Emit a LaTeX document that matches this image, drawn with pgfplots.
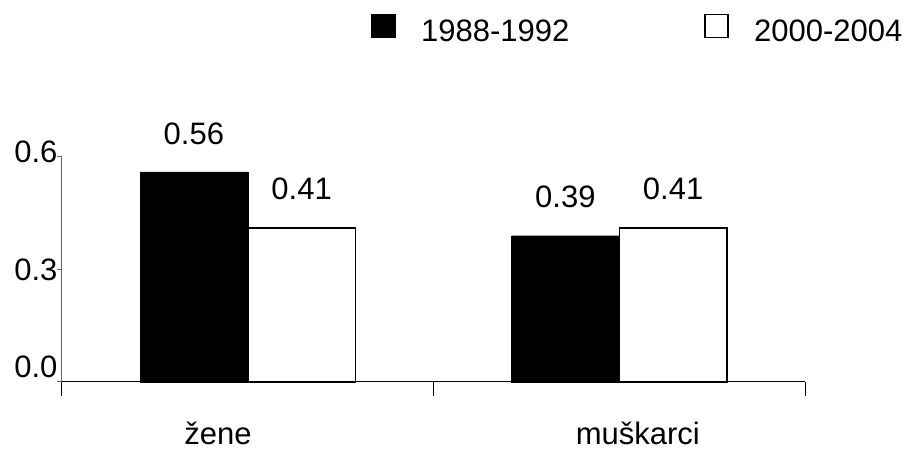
\documentclass[border=0pt]{standalone}
\usepackage{pgfplots}
\pgfplotsset{compat=1.18}
\usepackage{fontspec}
\setmainfont{Liberation Sans}
\newcommand{\bigfont}{\fontsize{31pt}{36pt}\selectfont}
\begin{document}
\begin{tikzpicture}[font=\bigfont]
\path[use as bounding box] (0,0) rectangle (914pt,455pt);
\begin{axis}[
  at={(62pt,73pt)}, anchor=south west,
  scale only axis, width=743pt, height=225pt,
  xmin=0, xmax=2, ymin=0, ymax=0.6,
  axis x line*=bottom, axis y line*=left,
  x axis line style={black, line width=1pt, -},
  y axis line style={black!60, line width=1pt, -},
  % category names sit a little off the group centres, as in the source
  xtick={0.42,1.55}, xticklabels={žene,muškarci},
  major x tick style={draw=none},
  minor xtick={0,1,2},
  minor tick length=14pt, major tick length=5pt,
  xtick align=outside, ytick align=outside,
  minor x tick style={black, line width=1pt},
  major y tick style={black!60, line width=1pt},
  xticklabel style={font=\bigfont, anchor=base, yshift=-58pt},
  ytick={0,0.3,0.6},
  yticklabels={\raisebox{30pt}{0.0},\raisebox{-4pt}{0.3},\raisebox{10pt}{0.6}},
  yticklabel style={font=\bigfont, xshift=4pt},
  clip=false,
  bar width=0.29,
  nodes near coords={\pgfmathprintnumber[fixed,fixed zerofill,precision=2,assume math mode=true]{\pgfplotspointmeta}},
  nodes near coords style={font=\bigfont, anchor=south, yshift=24pt},
  legend style={at={(0.412,1.567)}, anchor=west, draw=none, fill=none,
    font=\bigfont, legend columns=2,
    /tikz/every even column/.append style={column sep=133pt}},
  sq/.style={legend image code/.code={%
    \draw[##1,/tikz/.cd,line width=1.5pt] (0pt,-6pt) rectangle (23pt,17pt);
    \path[draw=none,fill=none] (0pt,0pt) -- (47pt,0pt);}},
]
\addplot[ybar, bar shift=0pt, fill=black, draw=black, sq] coordinates {(0.355,0.56) (1.355,0.39)};
\addlegendentry{1988-1992}
\addplot[ybar, bar shift=0pt, fill=white, draw=black, line width=1.5pt, sq] coordinates {(0.645,0.41) (1.645,0.41)};
\addlegendentry{2000-2004}
\end{axis}
\end{tikzpicture}
\end{document}
